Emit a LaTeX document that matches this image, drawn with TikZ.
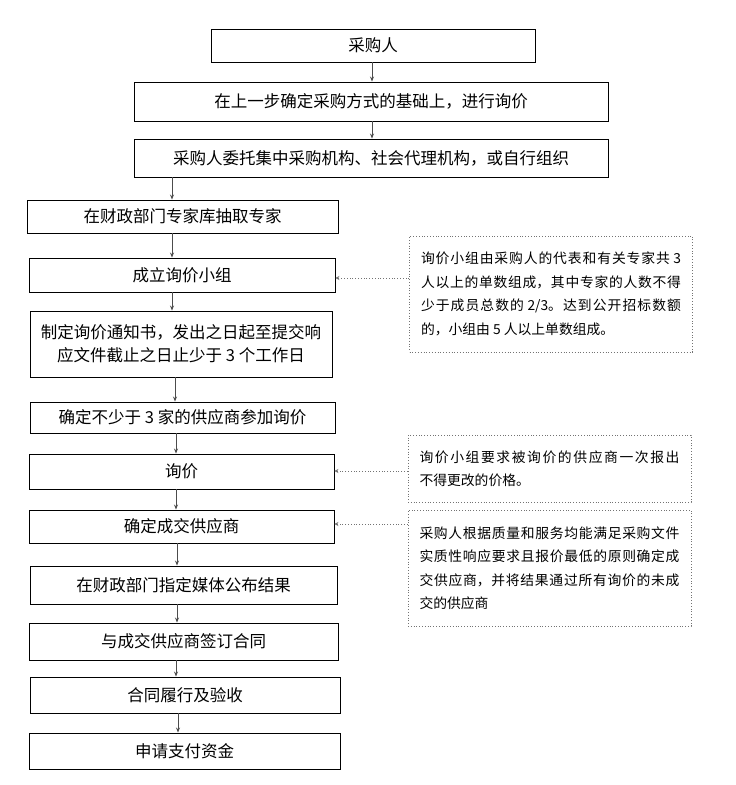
\documentclass[tikz,border=0pt]{standalone}
\usepackage{fontspec}
\newfontfamily\cjk{Noto Sans CJK SC}
\usetikzlibrary{arrows.meta}
\XeTeXlinebreaklocale "zh"
\XeTeXlinebreakskip=0pt plus 4pt
\tolerance=9999
\hbadness=10000
\begin{document}
\begin{tikzpicture}[x=1pt,y=-1pt,
  mainbox/.style={draw=black, line width=0.9pt, inner sep=0pt, align=center,
    font=\cjk\fontsize{16.5}{23}\selectfont},
  notebox/.style={draw=black!55, dotted, line width=0.8pt, inner xsep=11.5pt, inner ysep=0pt,
    text width=260pt, align=justify, font=\cjk\fontsize{13.8}{23.5}\selectfont},
  arr/.style={draw=black!70, line width=0.8pt, -{Stealth[length=5pt,width=4pt]}},
  darr/.style={draw=black!55, dotted, line width=0.8pt, -{Stealth[length=4pt,width=4pt]}}]
\useasboundingbox[fill=white] (0,0) rectangle (736,785);

\node[mainbox, minimum width=324pt, minimum height=33pt] (b1) at (373,45.5) {采购人};
\node[mainbox, minimum width=474pt, minimum height=39pt] (b2) at (371,101.5) {在上一步确定采购方式的基础上，进行询价};
\node[mainbox, minimum width=474pt, minimum height=38pt] (b3) at (371,158) {采购人委托集中采购机构、社会代理机构，或自行组织};
\node[mainbox, minimum width=311pt, minimum height=33pt] (b4) at (182.5,216.5) {在财政部门专家库抽取专家};
\node[mainbox, minimum width=306pt, minimum height=34pt] (b5) at (182,275) {成立询价小组};
\node[mainbox, minimum width=302pt, minimum height=66pt] (b6) at (181,344) {制定询价通知书，发出之日起至提交响\\应文件截止之日止少于 3 个工作日};
\node[mainbox, minimum width=305pt, minimum height=31pt] (b7) at (182.5,417.5) {确定不少于 3 家的供应商参加询价};
\node[mainbox, minimum width=305pt, minimum height=35pt] (b8) at (181.5,471.5) {询价};
\node[mainbox, minimum width=305pt, minimum height=33pt] (b9) at (181.5,526.5) {确定成交供应商};
\node[mainbox, minimum width=307pt, minimum height=38pt] (b10) at (183.5,585) {在财政部门指定媒体公布结果};
\node[mainbox, minimum width=309pt, minimum height=37pt] (b11) at (183.5,641.5) {与成交供应商签订合同};
\node[mainbox, minimum width=310pt, minimum height=36pt] (b12) at (185,695) {合同履行及验收};
\node[mainbox, minimum width=311pt, minimum height=36pt] (b13) at (184.5,751) {申请支付资金};

\node[notebox, minimum height=116pt] (r1) at (551,294) {询价小组由采购人的代表和有关专家共 3\linebreak 人以上的单数组成，其中专家的人数不得\linebreak 少于成员总数的 2/3。达到公开招标数额\linebreak 的，小组由 5 人以上单数组成。};
\node[notebox, minimum height=67pt] (r2) at (549.5,468.5) {询价小组要求被询价的供应商一次报出\linebreak 不得更改的价格。};
\node[notebox, minimum height=116pt] (r3) at (549.5,568) {采购人根据质量和服务均能满足采购文件\linebreak 实质性响应要求且报价最低的原则确定成\linebreak 交供应商，并将结果通过所有询价的未成\linebreak 交的供应商};

\coordinate (p1) at (372,0);
\coordinate (p2) at (372,0);
\coordinate (p3) at (172,0);
\coordinate (p4) at (172,0);
\coordinate (p5) at (172,0);
\coordinate (p6) at (175,0);
\coordinate (p7) at (176,0);
\coordinate (p8) at (176,0);
\coordinate (p9) at (177,0);
\coordinate (p10) at (177,0);
\coordinate (p11) at (176,0);
\coordinate (p12) at (178,0);
\draw[arr] (b1.south -| p1) -- (b2.north -| p1);
\draw[arr] (b2.south -| p2) -- (b3.north -| p2);
\draw[arr] (b3.south -| p3) -- (b4.north -| p3);
\draw[arr] (b4.south -| p4) -- (b5.north -| p4);
\draw[arr] (b5.south -| p5) -- (b6.north -| p5);
\draw[arr] (b6.south -| p6) -- (b7.north -| p6);
\draw[arr] (b7.south -| p7) -- (b8.north -| p7);
\draw[arr] (b8.south -| p8) -- (b9.north -| p8);
\draw[arr] (b9.south -| p9) -- (b10.north -| p9);
\draw[arr] (b10.south -| p10) -- (b11.north -| p10);
\draw[arr] (b11.south -| p11) -- (b12.north -| p11);
\draw[arr] (b12.south -| p12) -- (b13.north -| p12);

\coordinate (q1) at (0,278);
\coordinate (q2) at (0,471);
\coordinate (q3) at (0,524);
\draw[darr] (r1.west |- q1) -- (b5.east |- q1);
\draw[darr] (r2.west |- q2) -- (b8.east |- q2);
\draw[darr] (r3.west |- q3) -- (b9.east |- q3);
\end{tikzpicture}
\end{document}
